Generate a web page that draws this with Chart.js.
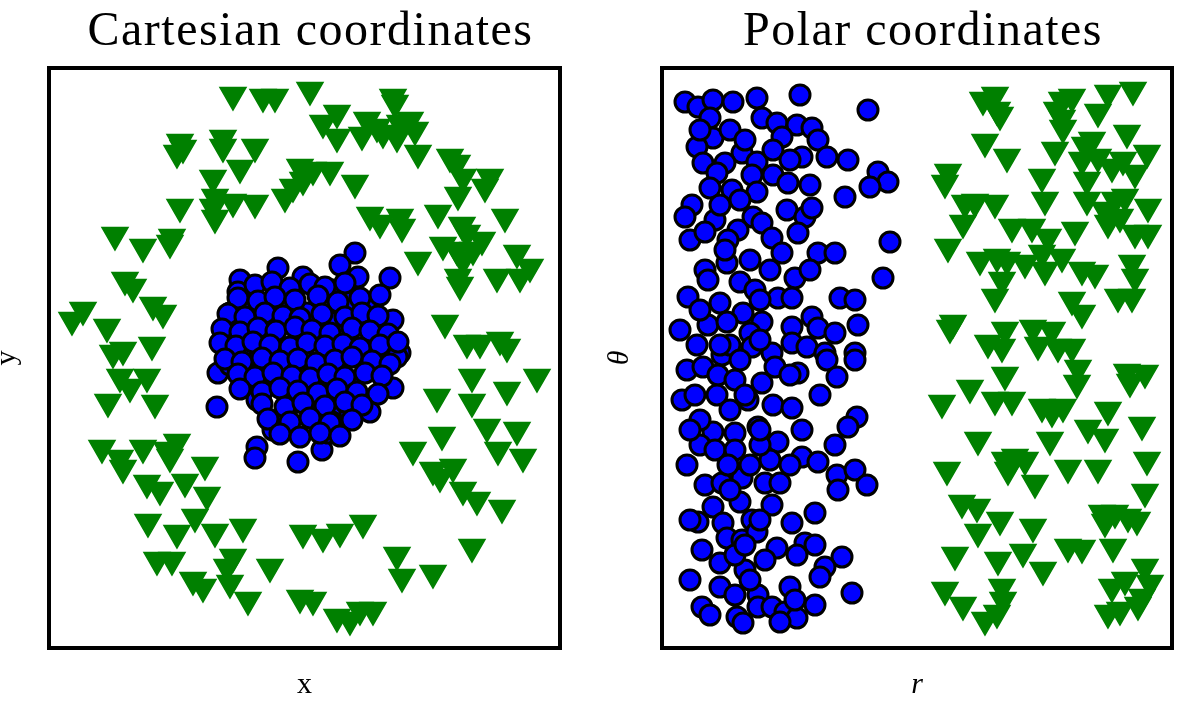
<!DOCTYPE html>
<html>
<head>
<meta charset="utf-8">
<script src="https://cdn.jsdelivr.net/npm/chart.js@4"></script>
<style>
  body { margin: 0; background: #fff; }
  .panel { position: absolute; top: 0; height: 701px; }
  #left { left: 0; width: 600px; }
  #right { left: 600px; width: 601px; }
</style>
</head>
<body>
<div class="panel" id="left"><canvas id="cart"></canvas></div>
<div class="panel" id="right"><canvas id="polar"></canvas></div>
<script>
// Cartesian panel: inner class (blue circles), [x, y]
const cartInner = [
  [-0.27,0.90],[-0.65,0.78],[-0.67,0.66],[-0.53,0.48],[-0.75,0.45],[-0.18,0.51],[-0.25,0.68],[-0.02,0.81],
  [-0.62,0.11],[-0.78,0.11],[0.50,1.05],[0.85,0.80],[0.35,0.93],[0.53,0.81],[0.28,0.68],[0.67,0.56],
  [0.45,0.56],[0.02,0.45],[0.32,0.36],[0.80,0.35],[0.88,0.38],[0.08,0.21],[0.53,0.08],[0.95,0.05],
  [0.72,0.05],[-0.88,-0.49],[-0.87,-0.15],[-0.75,-0.07],[-0.48,-0.89],[-0.50,-1.00],[-0.07,-1.04],[-0.18,-0.60],
  [-0.32,-0.72],[-0.48,-0.42],[-0.25,-0.25],[-0.05,-0.14],[-0.58,-0.25],[-0.45,-0.15],[0.17,-0.92],[0.23,-0.75],
  [0.08,-0.54],[0.35,-0.49],[0.65,-0.54],[0.88,-0.30],[0.47,-0.24],[0.18,-0.25],[0.35,-0.05],[0.62,-0.02],
  [0.92,0.01],[-0.02,-0.12],[0.45,-0.55],[0.27,-0.64],
  [-0.50,0.73],[-0.33,0.76],[-0.15,0.70],[0.05,0.74],[0.20,0.71],[0.40,0.75],
  [-0.67,0.60],[-0.47,0.57],[-0.30,0.61],[-0.10,0.58],[0.13,0.62],[0.33,0.56],[0.55,0.60],[0.75,0.63],
  [-0.77,0.44],[-0.60,0.41],[-0.40,0.45],[-0.22,0.42],[-0.05,0.40],[0.17,0.44],[0.40,0.41],[0.57,0.45],[0.73,0.42],
  [-0.83,0.29],[-0.65,0.26],[-0.47,0.30],[-0.29,0.27],[-0.10,0.31],[0.07,0.28],[0.25,0.25],[0.47,0.30],[0.65,0.27],[0.83,0.24],
  [-0.85,0.15],[-0.69,0.12],[-0.52,0.16],[-0.35,0.13],[-0.15,0.11],[0.02,0.15],[0.20,0.12],[0.38,0.14],[0.55,0.10],[0.75,0.13],[0.93,0.16],
  [-0.80,-0.01],[-0.63,-0.04],[-0.43,0.00],[-0.25,-0.03],[-0.07,-0.01],[0.11,-0.05],[0.30,-0.02],[0.47,0.01],[0.67,-0.03],[0.85,-0.06],
  [-0.67,-0.16],[-0.50,-0.19],[-0.32,-0.15],[-0.13,-0.18],[0.05,-0.20],[0.23,-0.16],[0.40,-0.19],[0.60,-0.15],[0.77,-0.18],
  [-0.65,-0.31],[-0.43,-0.34],[-0.25,-0.30],[-0.07,-0.33],[0.13,-0.35],[0.32,-0.31],[0.52,-0.34],[0.73,-0.36],
  [-0.43,-0.46],[-0.20,-0.49],[-0.02,-0.45],[0.20,-0.48],[0.40,-0.44],[0.57,-0.47],
  [-0.37,-0.61],[-0.15,-0.64],[0.05,-0.60],[0.25,-0.65],[0.47,-0.62],
  [-0.25,-0.76],[-0.05,-0.79],[0.15,-0.75],[0.35,-0.78]
];

// Cartesian panel: outer ring (green triangles), [x, y]
const cartOuter = [
  [-0.72,2.63],[-0.42,2.61],[-0.30,2.61],[0.05,2.68],[-1.25,2.16],[-1.22,2.10],[-1.28,2.05],[-0.82,2.20],
  [-0.82,2.11],[-0.50,2.11],[-0.65,1.90],[-0.92,1.80],[-0.90,1.61],[-0.92,1.51],[-0.90,1.40],[-0.72,1.56],
  [-0.50,1.55],[-0.20,1.61],[-0.12,1.71],[-0.05,1.91],[-1.25,1.51],[-1.90,1.23],[-1.62,1.11],[-1.33,1.21],
  [-1.35,1.15],[-1.80,0.78],[-1.72,0.71],[-1.52,0.53],[-1.42,0.45],[-2.22,0.48],[-2.33,0.38],[-1.98,0.31],
  [-1.82,0.08],[-1.92,0.05],[-1.53,0.13],[0.88,2.61],[0.90,2.55],[0.32,2.45],[0.18,2.35],[0.32,2.21],
  [0.62,2.38],[0.72,2.31],[0.57,2.23],[0.78,2.25],[0.95,2.35],[1.05,2.38],[0.92,2.21],[1.10,2.28],
  [1.13,2.05],[1.45,2.01],[1.52,1.95],[1.58,1.81],[1.85,1.81],[1.80,1.71],[1.53,1.63],[0.08,1.88],
  [0.25,1.88],[-0.02,1.78],[0.50,1.75],[0.65,1.43],[0.75,1.35],[0.95,1.41],[0.97,1.31],[1.33,1.45],
  [1.57,1.33],[1.62,1.25],[2.00,1.41],[1.38,1.13],[1.52,1.08],[1.77,1.18],[1.68,1.08],[1.58,0.98],
  [1.13,0.98],[1.53,0.81],[1.55,0.73],[1.92,0.81],[2.12,1.05],[2.25,0.91],[2.15,0.81],[1.40,0.35],
  [1.62,0.15],[1.75,0.15],[1.95,0.18],[2.02,0.11],
  [-1.85,-0.19],[-1.75,-0.29],[-1.58,-0.19],[-1.97,-0.44],[-1.50,-0.45],[-2.03,-0.90],[-1.85,-1.00],[-1.82,-1.10],
  [-1.62,-0.90],[-1.38,-0.92],[-1.28,-0.84],[-1.35,-0.99],[-1.00,-1.07],[-1.58,-1.25],[-1.45,-1.32],[-1.20,-1.24],
  [-0.98,-1.37],[-1.57,-1.64],[-1.28,-1.75],[-1.10,-1.59],[-0.90,-1.74],[-0.62,-1.69],[-0.02,-1.75],[-1.48,-2.02],
  [-1.33,-2.02],[-0.72,-1.99],[-0.78,-2.09],[-0.35,-2.09],[-1.12,-2.22],[-1.02,-2.29],[-0.75,-2.25],[-0.57,-2.42],
  [-0.05,-2.40],
  [1.67,-0.19],[2.02,-0.32],[2.32,-0.19],[1.32,-0.39],[1.67,-0.44],[1.82,-0.69],[2.12,-0.72],[1.37,-0.77],
  [1.08,-0.92],[1.93,-0.92],[2.18,-0.99],[1.28,-1.12],[1.35,-1.19],[1.48,-1.09],[1.58,-1.32],[1.72,-1.42],
  [1.97,-1.50],[0.58,-1.65],[0.35,-1.74],[0.18,-1.79],[0.92,-1.97],[0.97,-2.19],[1.28,-2.15],[1.67,-1.89],
  [0.08,-2.42],[0.32,-2.59],[0.55,-2.52],[0.68,-2.52],[0.45,-2.62]
];

// Polar panel: inner class, [r, theta]
const polarInner = [
  [0.115,2.56],[0.18,2.51],[0.255,2.58],[0.355,2.56],[0.475,2.60],[0.69,2.63],[1.03,2.48],[0.24,2.40],
  [0.50,2.40],[0.575,2.35],[0.675,2.33],[0.75,2.30],[0.78,2.18],[0.60,2.21],[0.255,2.20],[0.175,2.11],
  [0.40,2.05],[0.475,1.96],[0.555,2.08],[0.70,2.01],[0.825,2.01],[0.93,1.98],[0.205,1.95],[0.315,1.95],
  [0.275,1.85],[0.45,1.83],[0.555,1.83],[0.63,1.75],[0.74,1.73],[1.08,1.86],[1.13,1.76],[1.04,1.71],
  [0.915,1.61],[0.24,1.70],[0.35,1.68],[0.475,1.66],[0.15,1.53],[0.115,1.41],[0.265,1.38],[0.455,1.41],
  [0.50,1.35],[0.625,1.48],[0.715,1.41],[0.75,1.50],[0.38,1.28],[0.33,1.18],[0.55,1.20],[0.60,1.05],
  [0.68,1.25],[0.78,1.05],[0.865,1.05],[1.14,1.16],[0.215,0.88],[0.325,0.95],[0.13,0.61],[0.23,0.78],
  [0.39,0.76],[0.465,0.68],[0.665,0.80],[0.58,0.60],[0.65,0.60],[0.89,0.60],[0.965,0.58],[1.105,0.80],
  [0.29,0.55],[0.405,0.45],[0.23,0.33],[0.325,0.36],[0.50,0.36],[0.44,0.25],[0.65,0.31],[0.75,0.41],
  [0.78,0.30],[0.865,0.25],[0.98,0.33],[0.175,0.13],[0.30,0.03],[0.45,0.11],[0.55,0.05],[0.65,0.15],
  [0.725,0.11],[0.815,0.05],[0.965,0.05],
  [0.125,-0.12],[0.205,-0.09],[0.28,-0.17],[0.365,-0.22],[0.50,-0.25],[0.565,-0.09],[0.68,-0.15],[0.825,-0.02],
  [0.875,-0.19],[0.965,-0.02],[0.10,-0.42],[0.165,-0.37],[0.275,-0.37],[0.43,-0.42],[0.555,-0.47],[0.65,-0.50],
  [0.70,-0.72],[0.975,-0.59],[0.93,-0.69],[0.255,-0.74],[0.365,-0.75],[0.48,-0.69],[0.58,-0.84],[0.19,-0.87],
  [0.265,-0.92],[0.365,-0.92],[0.54,-1.02],[0.70,-0.99],[0.78,-1.04],[0.865,-0.87],[0.125,-1.07],[0.215,-1.27],
  [0.30,-1.25],[0.40,-1.20],[0.515,-1.25],[0.59,-1.25],[0.875,-1.17],[0.965,-1.12],[1.025,-1.27],[0.88,-1.32],
  [0.255,-1.49],[0.39,-1.44],[0.55,-1.47],[0.18,-1.64],[0.305,-1.65],[0.45,-1.62],[0.65,-1.65],[0.765,-1.55],
  [0.325,-1.80],[0.40,-1.82],[0.475,-1.74],[0.20,-1.92],[0.575,-1.90],[0.715,-1.85],[0.675,-1.97],[0.90,-1.99],
  [0.815,-2.09],[0.79,-2.19],[0.29,-2.05],[0.415,-2.12],[0.515,-2.02],[0.29,-2.29],[0.64,-2.29],[0.48,-2.37],
  [0.765,-2.47],[0.95,-2.35],[0.20,-2.49],[0.24,-2.57],[0.375,-2.59],[0.48,-2.49],[0.55,-2.49],[0.615,-2.54],
  [0.675,-2.60],[0.59,-2.64],[0.405,-2.65],
  [0.34,0.13],[0.39,-0.02],[0.49,0.18],[0.415,-0.37],[0.34,-0.52],[0.49,-0.87],[0.44,-1.07],[0.33,-1.07],
  [0.64,-1.07],[0.34,-1.32],[0.49,-1.62],[0.365,-1.97],[0.44,-2.22],[0.365,-2.37],[0.665,-2.42],[0.315,1.08],
  [0.44,0.98],[0.54,0.88],[0.29,1.53],[0.39,1.58],[0.64,1.98],[0.34,2.28],[0.415,2.18],
  [0.14,1.18],[0.215,1.26],[0.49,0.58],[0.19,-0.62],[0.14,-0.72],[0.49,-0.72],[0.415,-1.87],[0.14,-1.62],
  [0.14,-2.22],[0.79,-0.37],[0.765,-1.87],[0.19,2.28],[0.74,0.88],[0.64,-0.17],[0.29,0.13],[0.19,0.48],
  [0.09,0.28]
];

// Polar panel: outer class, [r, theta]
const polarOuter = [
  [1.605,2.58],[1.665,2.63],[1.675,2.48],[1.69,2.43],[1.615,2.16],[1.725,2.01],[1.975,2.48],[2.00,2.58],
  [2.05,2.61],[2.00,2.40],[2.005,2.30],[2.18,2.46],[2.23,2.65],[2.355,2.68],[1.965,2.08],[2.115,2.13],
  [2.15,2.18],[2.325,2.25],[2.18,2.01],[2.25,1.91],[2.305,1.98],[2.425,2.05],[2.10,1.98],[2.365,1.85],
  [1.90,1.81],[1.915,1.58],[1.43,1.86],[1.415,1.75],[1.515,1.55],[1.565,1.56],[1.665,1.55],[1.505,1.35],
  [2.125,1.78],[2.125,1.58],[2.215,1.48],[2.265,1.58],[2.315,1.61],[2.43,1.51],[2.23,1.35],[2.365,1.25],
  [2.43,1.25],[2.29,1.41],[1.75,1.31],[1.85,1.31],[1.93,1.21],[2.065,1.28],[1.43,1.11],[1.59,0.98],
  [1.675,1.01],[1.725,0.98],[1.815,0.95],[1.90,1.05],[1.915,0.88],[2.00,1.01],[2.10,0.88],[2.165,0.85],
  [2.35,0.95],[2.365,0.81],[1.70,0.78],[1.665,0.61],[2.28,0.61],[2.35,0.61],[2.05,0.58],[2.10,0.45],
  [1.455,0.35],[1.44,0.30],[1.715,0.28],[1.855,0.30],[1.95,0.28],[1.63,0.15],[1.70,0.11],[1.88,0.13],
  [1.98,0.11],[2.05,0.11],
  [2.08,-0.10],[2.075,-0.25],[2.325,-0.14],[2.415,-0.15],[2.34,-0.24],[1.715,-0.17],[1.54,-0.30],[1.40,-0.45],
  [1.665,-0.42],[1.75,-0.42],[1.90,-0.49],[1.95,-0.54],[2.005,-0.49],[2.23,-0.52],[2.40,-0.67],[2.13,-0.70],
  [2.215,-0.79],[1.58,-0.82],[1.94,-0.82],[1.715,-1.02],[1.765,-0.99],[1.815,-1.02],[1.73,-1.12],[1.865,-1.25],
  [1.425,-1.12],[2.03,-1.10],[2.18,-1.10],[2.425,-1.02],[2.415,-1.34],[1.50,-1.45],[1.575,-1.49],[1.69,-1.62],
  [1.58,-1.74],[1.855,-1.69],[2.20,-1.55],[2.265,-1.55],[2.33,-1.59],[2.375,-1.62],[2.215,-1.64],[1.465,-1.97],
  [1.68,-2.02],[1.805,-1.94],[2.03,-1.89],[2.10,-1.90],[2.255,-1.89],[1.905,-2.12],[1.415,-2.32],[1.505,-2.47],
  [1.70,-2.29],[1.705,-2.42],[1.615,-2.62],[1.675,-2.55],[2.25,-2.29],[2.315,-2.22],[2.415,-2.09],[2.44,-2.25],
  [2.40,-2.39],[2.23,-2.55],[2.29,-2.52],[2.38,-2.47]
];

const cartRange = { xMin: -2.56, xMax: 2.55, yMin: -2.9, yMax: 2.9 };
const polarRange = { xMin: 0, xMax: 2.55, yMin: -2.9, yMax: 2.9 };

const toPts = arr => arr.map(p => ({ x: p[0], y: p[1] }));

// frame + texts, drawn around the chart area
const decor = {
  id: 'decor',
  afterDatasetsDraw(chart, args, o) {
    const { ctx, chartArea: a } = chart;
    ctx.save();
    ctx.strokeStyle = '#000';
    ctx.lineWidth = 4;
    ctx.strokeRect(a.left, a.top, a.right - a.left, a.bottom - a.top);
    ctx.fillStyle = '#000';
    const cx = (a.left + a.right) / 2;
    ctx.textAlign = 'center';
    ctx.textBaseline = 'alphabetic';
    ctx.font = '48px "Liberation Serif"';
    ctx.letterSpacing = '1.5px';
    ctx.fillText(o.title, cx + 6, 45);
    ctx.letterSpacing = '0px';
    ctx.font = (o.italic ? 'italic ' : '') + '30px "Liberation Serif"';
    ctx.fillText(o.xLabel, cx, a.bottom + 45);
    ctx.translate(a.left - 34, (a.top + a.bottom) / 2);
    ctx.rotate(-Math.PI / 2);
    ctx.fillText(o.yLabel, 0, 0);
    ctx.restore();
  }
};

function makeChart(id, inner, outer, range, pad, text) {
  return new Chart(document.getElementById(id), {
    type: 'scatter',
    data: {
      datasets: [
        {
          data: toPts(inner),
          pointStyle: 'circle',
          pointRadius: 10,
          backgroundColor: '#0000ff',
          borderColor: '#000',
          borderWidth: 3
        },
        {
          data: toPts(outer),
          pointStyle: 'triangle',
          rotation: 180,
          pointRadius: 15,
          backgroundColor: '#008000',
          borderColor: '#008000',
          borderWidth: 1.5
        }
      ]
    },
    options: {
      responsive: true,
      maintainAspectRatio: false,
      animation: false,
      events: [],
      layout: { padding: pad },
      plugins: { legend: { display: false }, tooltip: { enabled: false }, decor: text },
      scales: {
        x: { type: 'linear', display: false, min: range.xMin, max: range.xMax },
        y: { type: 'linear', display: false, min: range.yMin, max: range.yMax }
      }
    },
    plugins: [decor]
  });
}

makeChart('cart', cartInner, cartOuter, cartRange,
  { left: 49, right: 40, top: 68, bottom: 53 },
  { title: 'Cartesian coordinates', xLabel: 'x', yLabel: 'y', italic: false });
makeChart('polar', polarInner, polarOuter, polarRange,
  { left: 62, right: 29, top: 68, bottom: 53 },
  { title: 'Polar coordinates', xLabel: 'r', yLabel: 'θ', italic: true });
</script>
</body>
</html>
